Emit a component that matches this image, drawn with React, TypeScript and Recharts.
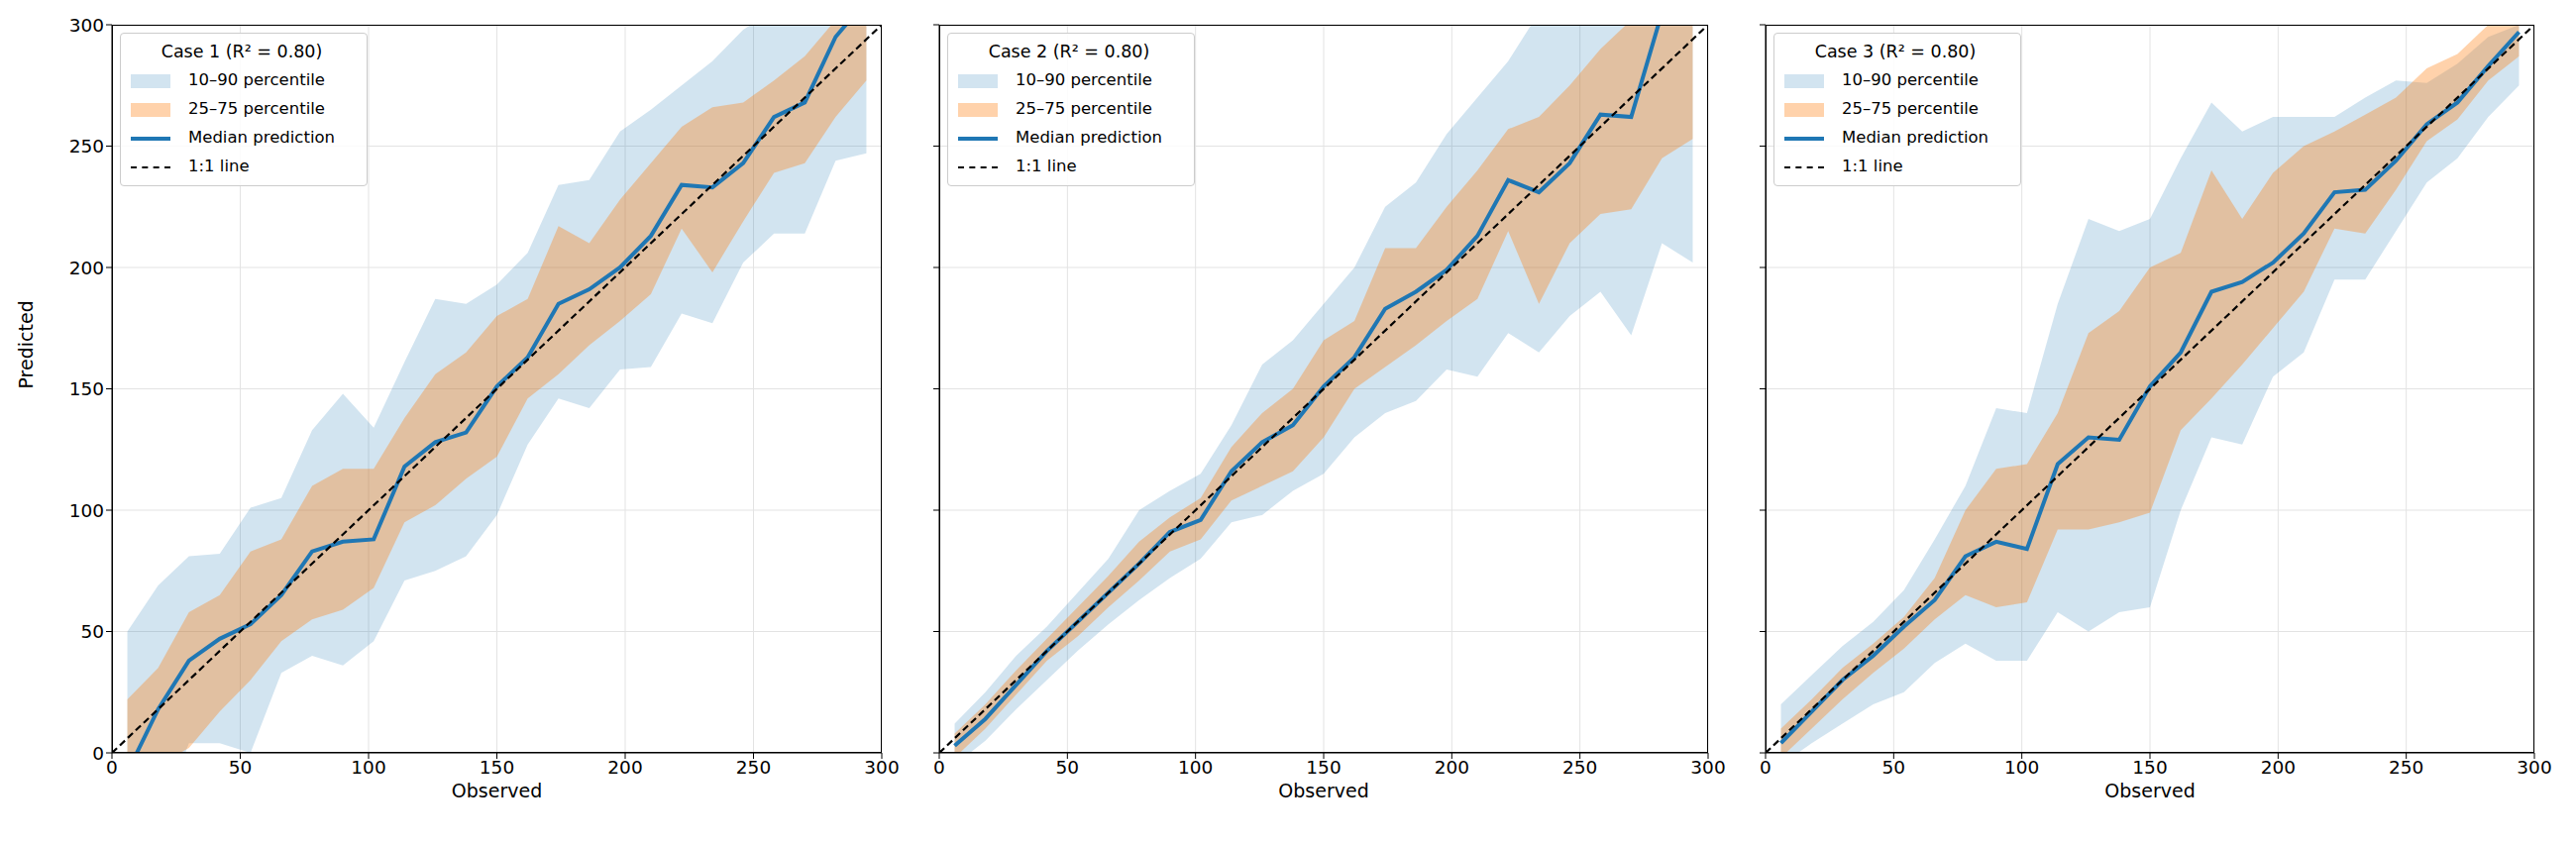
import React from 'react';
import { ComposedChart, Area, Line, XAxis, YAxis, CartesianGrid, ReferenceLine } from 'recharts';

const binCenters = [6, 18, 30, 42, 54, 66, 78, 90, 102, 114, 126, 138, 150, 162, 174, 186, 198, 210, 222, 234, 246, 258, 270, 282, 294];
const axisTicks = [0, 50, 100, 150, 200, 250, 300];

// Case 1
const c1Median = [-8, 18, 38, 47, 53, 65, 83, 87, 88, 118, 128, 132, 151, 163, 185, 191, 200, 213, 234, 233, 243, 262, 268, 295, 310];
const c1P25 = [-20, -5, 2, 17, 30, 46, 55, 59, 68, 95, 102, 113, 122, 146, 156, 168, 178, 189, 216, 198, 219, 239, 243, 262, 277];
const c1P75 = [22, 35, 58, 65, 83, 88, 110, 117, 117, 138, 156, 165, 180, 187, 217, 210, 228, 243, 258, 266, 268, 277, 287, 302, 302];
const c1P10 = [-40, -30, 4, 4, 0, 33, 40, 36, 46, 71, 75, 81, 98, 127, 146, 142, 158, 159, 181, 177, 202, 214, 214, 244, 247];
const c1P90 = [50, 69, 81, 82, 101, 105, 133, 148, 134, 161, 187, 185, 193, 206, 234, 236, 256, 265, 275, 285, 298, 306, 310, 320, 330];

// Case 2
const c2Median = [3, 14, 28, 42, 54, 66, 78, 91, 96, 116, 128, 135, 151, 163, 183, 190, 199, 213, 236, 231, 243, 263, 262, 305, 320];
const c2P25 = [-2, 10, 24, 38, 48, 60, 71, 83, 88, 104, 110, 116, 130, 150, 159, 168, 178, 187, 215, 185, 210, 222, 224, 245, 253];
const c2P75 = [8, 20, 34, 47, 60, 73, 87, 97, 105, 126, 140, 150, 170, 178, 208, 208, 225, 240, 257, 262, 275, 290, 302, 310, 302];
const c2P10 = [-5, 5, 18, 30, 42, 53, 63, 72, 80, 95, 98, 108, 115, 130, 140, 145, 158, 155, 173, 165, 180, 190, 172, 210, 202];
const c2P90 = [12, 25, 40, 52, 66, 80, 100, 108, 115, 135, 160, 170, 185, 200, 225, 235, 255, 270, 285, 305, 310, 320, 330, 330, 330];

// Case 3
const c3Median = [4, 17, 30, 40, 52, 63, 81, 87, 84, 119, 130, 129, 151, 165, 190, 194, 202, 214, 231, 232, 244, 259, 268, 283, 297];
const c3P25 = [-2, 10, 22, 33, 43, 55, 65, 60, 62, 92, 92, 95, 99, 133, 146, 160, 175, 190, 216, 214, 232, 252, 261, 277, 287];
const c3P75 = [10, 22, 35, 45, 56, 72, 100, 117, 119, 140, 173, 182, 200, 206, 240, 220, 239, 250, 256, 263, 270, 282, 288, 300, 305];
const c3P10 = [-5, 4, 12, 20, 25, 37, 45, 38, 38, 58, 50, 58, 60, 100, 130, 127, 155, 165, 195, 195, 215, 235, 245, 262, 275];
const c3P90 = [20, 32, 44, 54, 67, 88, 110, 142, 140, 185, 220, 215, 220, 245, 268, 256, 262, 262, 262, 270, 277, 276, 284, 295, 300];

const cases = [
  { title: 'Case 1 (R² = 0.80)', median: c1Median, p10: c1P10, p25: c1P25, p75: c1P75, p90: c1P90 },
  { title: 'Case 2 (R² = 0.80)', median: c2Median, p10: c2P10, p25: c2P25, p75: c2P75, p90: c2P90 },
  { title: 'Case 3 (R² = 0.80)', median: c3Median, p10: c3P10, p25: c3P25, p75: c3P75, p90: c3P90 },
];

const FONT = 'DejaVu Sans, sans-serif';
const layouts = [
  { left: 0, width: 910, yW: 113, right: 20 },
  { left: 900, width: 844, yW: 48, right: 20 },
  { left: 1730, width: 850, yW: 52, right: 22 },
];
const TOP = 25;
const PLOT_H = 735;

function Legend({ title }: { title: string }) {
  const row = { display: 'flex', alignItems: 'center', height: 29, whiteSpace: 'nowrap' } as React.CSSProperties;
  const sw = { width: 40, flex: '0 0 40px', marginRight: 18, marginLeft: 6 } as React.CSSProperties;
  return (
    <div style={{ position: 'absolute', left: 8, top: 8, width: 236, whiteSpace: 'nowrap', background: 'rgba(255,255,255,0.85)', border: '1px solid #cccccc', borderRadius: 4, padding: '3px 8px 4px 4px', fontFamily: FONT, fontSize: 16.5, color: '#000', lineHeight: 1 }}>
      <div style={{ textAlign: 'center', fontSize: 17.5, height: 30, lineHeight: '30px' }}>{title}</div>
      <div style={row}><div style={{ ...sw, height: 14, background: 'rgba(31,119,180,0.2)' }} /><span>10–90 percentile</span></div>
      <div style={row}><div style={{ ...sw, height: 14, background: 'rgba(255,127,14,0.35)' }} /><span>25–75 percentile</span></div>
      <div style={row}><div style={{ ...sw, height: 0, borderTop: '4px solid #1f77b4' }} /><span>Median prediction</span></div>
      <div style={row}><div style={{ ...sw, height: 0, borderTop: '2.5px dashed #000' }} /><span>1:1 line</span></div>
    </div>
  );
}

function Panel({ idx }: { idx: number }) {
  const c = cases[idx];
  const L = layouts[idx];
  const data = binCenters.map((x, i) => ({
    x,
    band90: [c.p10[i], c.p90[i]],
    band50: [c.p25[i], c.p75[i]],
    median: c.median[i],
  }));
  const plotW = L.width - L.yW - L.right;
  return (
    <div style={{ position: 'absolute', left: L.left, top: 0, width: L.width, height: 853 }}>
      <ComposedChart width={L.width} height={853} data={data} margin={{ top: TOP, right: L.right, bottom: 33, left: 0 }}>
        <CartesianGrid stroke="#e3e3e3" strokeWidth={1} />
        <XAxis type="number" dataKey="x" domain={[0, 300]} ticks={axisTicks} allowDataOverflow height={60}
          tick={{ fontSize: 18.5, fill: '#000', fontFamily: FONT }} tickLine={{ stroke: '#000' }} axisLine={{ stroke: '#000' }} tickSize={6}
          label={{ value: 'Observed', position: 'insideBottom', offset: 15, fontSize: 19, fill: '#000', fontFamily: FONT }} />
        <YAxis type="number" domain={[0, 300]} ticks={axisTicks} allowDataOverflow width={L.yW}
          tick={{ fontSize: 18.5, fill: '#000', fontFamily: FONT }} tickLine={{ stroke: '#000' }} axisLine={{ stroke: '#000' }} tickSize={6}
          tickFormatter={idx === 0 ? (v: number) => String(v) : () => ''}
          label={idx === 0 ? { value: 'Predicted', angle: -90, position: 'insideLeft', offset: 26, fontSize: 19, fill: '#000', fontFamily: FONT } : undefined} />
        <Area dataKey="band90" stroke="none" fill="#1f77b4" fillOpacity={0.2} isAnimationActive={false} type="linear" />
        <Area dataKey="band50" stroke="none" fill="#ff7f0e" fillOpacity={0.35} isAnimationActive={false} type="linear" />
        <Line dataKey="median" stroke="#1f77b4" strokeWidth={4} dot={false} isAnimationActive={false} type="linear" />
        <ReferenceLine segment={[{ x: 0, y: 0 }, { x: 300, y: 300 }]} stroke="#000" strokeWidth={2.2} strokeDasharray="7 4" ifOverflow="hidden" />
      </ComposedChart>
      <div style={{ position: 'absolute', left: L.yW, top: TOP, width: plotW, height: PLOT_H, border: '1.5px solid #000', boxSizing: 'border-box', pointerEvents: 'none' }} />
      <div style={{ position: 'absolute', left: L.yW, top: TOP }}>
        <Legend title={c.title} />
      </div>
    </div>
  );
}

export default function App() {
  return (
    <div style={{ position: 'absolute', left: 0, top: 0, width: 2600, height: 853, background: '#fff' }}>
      <Panel idx={0} />
      <Panel idx={1} />
      <Panel idx={2} />
    </div>
  );
}
